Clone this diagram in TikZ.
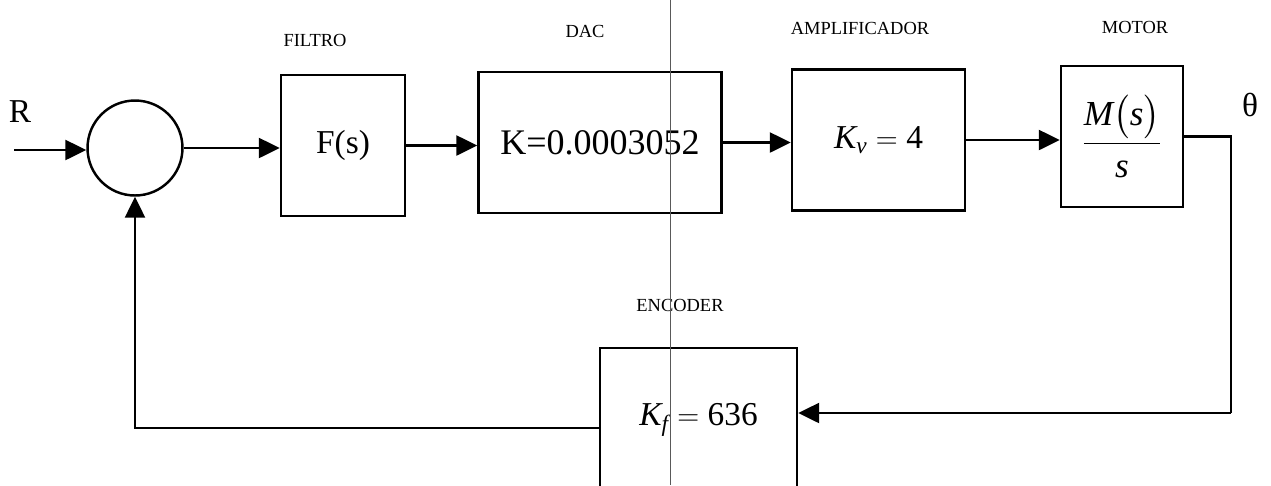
\documentclass[tikz,border=0pt]{standalone}
\usepackage{amsmath}
\usepackage{fontspec}
\setmainfont{Liberation Serif}
\usepackage{tikz}
\usetikzlibrary{arrows.meta,calc}

\tikzset{
  bloque/.style={draw,line width=1.4pt,minimum width=#1,minimum height=2.82cm,
    inner sep=0pt,font=\fontsize{19}{22}\selectfont},
  etiqueta/.style={font=\fontsize{10.5}{12}\selectfont},
  senal/.style={line width=1.4pt,-{Triangle[length=0.42cm,width=0.4cm]}},
  linea/.style={line width=1.4pt}
}

\begin{document}
\begin{tikzpicture}[x=0.02cm,y=-0.02cm]
  \useasboundingbox (0,0) rectangle (1271,485);
  \clip (0,0) rectangle (1271,485);

  % bloques del lazo directo
  \node[circle,draw,line width=1.4pt,minimum size=1.9cm,inner sep=0pt] (suma) at (135,148) {};
  \node[bloque=2.48cm] (filtro) at (343,145.5) {F(s)};
  \node[bloque=4.86cm,font=\fontsize{20.5}{24}\selectfont] (dac) at (600,142.5) {K=0.0003052};
  \node[bloque=3.46cm] (ampli) at (878.5,140) {$\mathit{K}_{\mathit{v}} = \mathrm{4}$};
  \node[bloque=2.44cm,font=\fontsize{20}{24}\selectfont] (motor) at (1122,136.5)
    {$\dfrac{\mathit{M}\bigl(\mathit{s}\bigr)}{\mathit{s}}$};
  % realimentacion
  \node[bloque=3.94cm,minimum height=2.88cm] (encoder) at (698.5,420)
    {$\mathit{K}_{\mathit{f}} = \mathrm{636}$};

  \node[etiqueta] (tfiltro) at (315,40) {FILTRO};
  \node[etiqueta] (tdac) at (585,31) {DAC};
  \node[etiqueta] (tampli) at (860,28) {AMPLIFICADOR};
  \node[etiqueta] (tmotor) at (1135,27) {MOTOR};
  \node[etiqueta] (tencoder) at (680,305) {ENCODER};
  \node[font=\fontsize{19}{22}\selectfont] (ref) at (20,112) {R};
  \node[font=\fontsize{19}{22}\selectfont] (theta) at (1250,105) {θ};

  \coordinate (entrada) at (14,150);
  \coordinate (salida) at (1231,413);

  \draw[senal] (entrada) -- (entrada -| suma.west);
  \draw[senal] (suma.east) -- (suma.east -| filtro.west);
  \draw[senal] (filtro.east) -- (filtro.east -| dac.west);
  \draw[senal] (dac.east) -- (dac.east -| ampli.west);
  \draw[senal] (ampli.east) -- (ampli.east -| motor.west);
  \draw[linea] (motor.east) -| (salida);
  \draw[senal] (salida) -- (salida -| encoder.east);
  \draw[senal] ($(encoder.west)+(0,8)$) -| (suma.south);

  % marca del escaneo
  \draw[gray!70!black,line width=0.4pt] (670,0) -- (670,485);
\end{tikzpicture}
\end{document}
